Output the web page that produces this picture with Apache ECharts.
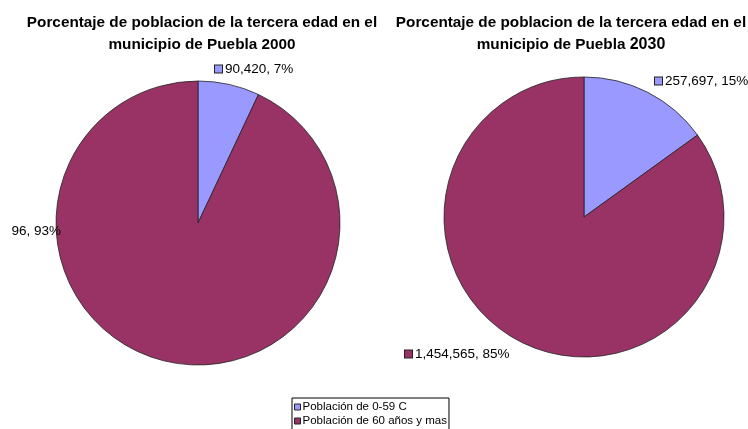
<!DOCTYPE html>
<html>
<head>
    <meta charset="utf-8">
    <title>Porcentaje de poblacion de la tercera edad</title>
    <script type="text/javascript" src="https://cdn.jsdelivr.net/npm/echarts@6/dist/echarts.min.js"></script>
    <style>
        html, body {
            margin: 0;
            padding: 0;
            background: #fff;
        }

        #chart {
            position: absolute;
            left: 12px;
            top: 0;
            width: 736px;
            height: 429px;
        }
    </style>
</head>
<body>
    <div id="chart"></div>
</body>
<script type="text/javascript">
    // datos
    var categorias = ['Población de 0-59 C', 'Población de 60 años y mas'];
    var valores2000 = [90420, 1201296];
    var valores2030 = [257697, 1454565];
    var porcentajes2000 = [7, 93];
    var porcentajes2030 = [15, 85];
    var colores = ['#9999FF', '#993366'];

    // posiciones de las etiquetas (x, y, align) en px del grafico
    var etiquetas2000 = [[203, 69, 'left'], [49, 231, 'right']];
    var etiquetas2030 = [[643, 81, 'left'], [393, 354, 'left']];

    function fmt(n) {
        return n.toLocaleString('en-US');
    }

    function datos(valores, porcentajes) {
        return categorias.map(function (c, i) {
            return {
                name: c,
                value: valores[i],
                pct: porcentajes[i],
                label: {
                    rich: {
                        box: {
                            width: 7,
                            height: 7,
                            backgroundColor: colores[i],
                            borderColor: '#222',
                            borderWidth: 1
                        },
                        txt: {
                            fontSize: 13.5,
                            color: '#000',
                            padding: [0, 0, 0, 3],
                            fontFamily: 'Liberation Sans, Arial, sans-serif'
                        }
                    }
                }
            };
        });
    }

    function serie(centro, radio, valores, porcentajes, etiquetas) {
        return {
            type: 'pie',
            center: centro,
            radius: radio,
            startAngle: 90,
            clockwise: true,
            silent: true,
            animation: false,
            itemStyle: {
                borderColor: '#222',
                borderWidth: 0.8
            },
            label: {
                show: true,
                position: 'outside',
                overflow: 'none',
                formatter: function (p) {
                    return '{box|}{txt|' + fmt(p.value) + ', ' + p.data.pct + '%}';
                }
            },
            labelLine: { show: false },
            labelLayout: function (p) {
                var e = etiquetas[p.dataIndex];
                return { x: e[0], y: e[1], align: e[2], verticalAlign: 'middle' };
            },
            data: datos(valores, porcentajes)
        };
    }

    var tituloEstilo = {
        fontSize: 15.3,
        fontWeight: 'bold',
        color: '#000',
        lineHeight: 22,
        fontFamily: 'Liberation Sans, Arial, sans-serif'
    };

    var option = {
        color: colores,
        animation: false,
        title: [{
            text: 'Porcentaje de poblacion de la tercera edad en el\nmunicipio de Puebla 2000',
            left: 185,
            top: 7,
            textAlign: 'center',
            textStyle: tituloEstilo
        }, {
            text: 'Porcentaje de poblacion de la tercera edad en el\nmunicipio de Puebla {y|2030}',
            left: 554,
            top: 7,
            textAlign: 'center',
            textStyle: Object.assign({}, tituloEstilo, {
                rich: {
                    y: {
                        fontSize: 16,
                        fontWeight: 'bold',
                        color: '#000',
                        lineHeight: 22,
                        fontFamily: 'Liberation Sans, Arial, sans-serif'
                    }
                }
            })
        }],
        legend: {
            orient: 'vertical',
            left: 280,
            top: 398,
            height: 40,
            padding: [3, 2, 6, 2],
            itemWidth: 6,
            itemHeight: 6,
            itemGap: 2,
            icon: 'rect',
            borderColor: '#000',
            borderWidth: 1,
            borderRadius: 0,
            itemStyle: {
                borderColor: '#222',
                borderWidth: 1
            },
            textStyle: {
                fontSize: 11.5,
                color: '#000',
                padding: [0, 0, 0, -3],
                fontFamily: 'Liberation Sans, Arial, sans-serif'
            },
            data: categorias
        },
        series: [
            serie([186, 223], 142, valores2000, porcentajes2000, etiquetas2000),
            serie([572, 217], 140, valores2030, porcentajes2030, etiquetas2030)
        ]
    };

    var myChart = echarts.init(document.getElementById('chart'));
    myChart.setOption(option);
</script>
</html>
